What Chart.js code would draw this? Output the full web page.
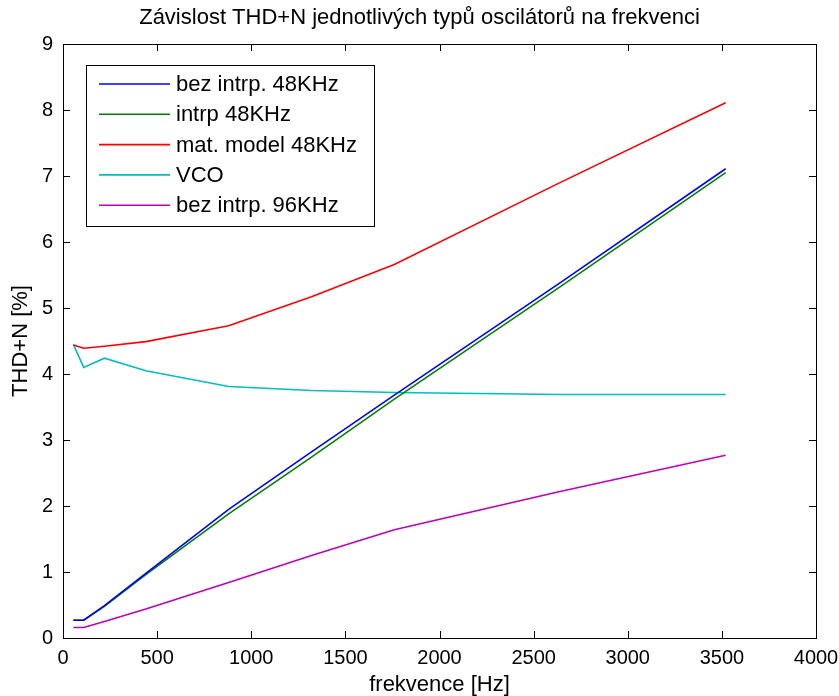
<!DOCTYPE html>
<html>
<head>
<meta charset="utf-8">
<script src="https://cdn.jsdelivr.net/npm/chart.js@4"></script>
<style>
html,body{margin:0;padding:0;background:#fff;}
#wrap{width:839px;height:696px;}
</style>
</head>
<body>
<div id="wrap"><canvas id="c" width="839" height="696"></canvas></div>
<script>
// frequencies [Hz]
const freq = [55, 110, 220, 440, 880, 1320, 1760, 2640, 3520];
// THD+N [%]
const bezIntrp48 = [0.27, 0.27, 0.49, 0.98, 1.95, 2.82, 3.68, 5.38, 7.11];
const intrp48    = [0.27, 0.27, 0.48, 0.96, 1.88, 2.74, 3.62, 5.32, 7.05];
const matModel48 = [4.44, 4.39, 4.42, 4.49, 4.73, 5.17, 5.66, 6.90, 8.11];
const vco        = [4.45, 4.10, 4.24, 4.05, 3.81, 3.75, 3.72, 3.69, 3.69];
const bezIntrp96 = [0.16, 0.16, 0.25, 0.44, 0.84, 1.25, 1.64, 2.22, 2.77];

const seriesLabels = ['bez intrp. 48KHz', 'intrp 48KHz', 'mat. model 48KHz', 'VCO', 'bez intrp. 96KHz'];
const seriesColors = ['#0000ff', '#008000', '#ff0000', '#00bfbf', '#bf00bf'];
const seriesValues = [bezIntrp48, intrp48, matModel48, vco, bezIntrp96];

const chartTitle = 'Závislost THD+N jednotlivých typů oscilátorů na frekvenci';
const xTitle = 'frekvence [Hz]';
const yTitle = 'THD+N [%]';

const FONT = "'Liberation Sans', Arial, Helvetica, sans-serif";

const datasets = seriesValues.map((vals, i) => ({
  label: seriesLabels[i],
  data: freq.map((f, j) => ({x: f, y: vals[j]})),
  borderColor: seriesColors[i],
  backgroundColor: seriesColors[i],
  borderWidth: 1.6,
  pointRadius: 0,
  tension: 0,
  fill: false
}));

const frameAndTicks = {
  id: 'frameAndTicks',
  afterDatasetsDraw(chart) {
    const {ctx, chartArea: a, scales} = chart;
    ctx.save();
    ctx.strokeStyle = '#000';
    ctx.lineWidth = 1;
    ctx.strokeRect(Math.round(a.left) + 0.5, Math.round(a.top) + 0.5, Math.round(a.right - a.left), Math.round(a.bottom - a.top));
    const L = 7;
    ctx.beginPath();
    scales.x.ticks.forEach(t => {
      const px = Math.round(scales.x.getPixelForValue(t.value)) + 0.5;
      ctx.moveTo(px, a.bottom); ctx.lineTo(px, a.bottom - L);
      ctx.moveTo(px, a.top); ctx.lineTo(px, a.top + L);
    });
    scales.y.ticks.forEach(t => {
      const py = Math.round(scales.y.getPixelForValue(t.value)) + 0.5;
      ctx.moveTo(a.left, py); ctx.lineTo(a.left + L, py);
      ctx.moveTo(a.right, py); ctx.lineTo(a.right - L, py);
    });
    ctx.stroke();

    // legend box inside plot
    const bx = 86, by = 65, bw = 288, bh = 161;
    ctx.fillStyle = '#fff';
    ctx.fillRect(bx, by, bw, bh);
    ctx.strokeRect(bx + 0.5, by + 0.5, bw, bh);
    ctx.font = '22px ' + FONT;
    ctx.textBaseline = 'middle';
    ctx.textAlign = 'left';
    chart.data.datasets.forEach((ds, i) => {
      const y = 84 + i * 30.3;
      ctx.strokeStyle = ds.borderColor;
      ctx.lineWidth = 1.6;
      ctx.beginPath();
      ctx.moveTo(99, y); ctx.lineTo(170, y);
      ctx.stroke();
      ctx.fillStyle = '#000';
      ctx.fillText(ds.label, 176, y + 1);
    });
    ctx.restore();
  }
};

new Chart(document.getElementById('c'), {
  type: 'line',
  data: {datasets},
  options: {
    responsive: false,
    animation: false,
    layout: {padding: {left: 0, right: 0, top: 0, bottom: 0}},
    plugins: {
      legend: {display: false},
      tooltip: {enabled: false},
      title: {
        display: true,
        text: chartTitle,
        color: '#000',
        font: {family: FONT, size: 22, weight: 'normal', lineHeight: 1.2},
        padding: {top: 5, bottom: 12.6}
      }
    },
    scales: {
      x: {
        type: 'linear',
        min: 0, max: 4000,
        grid: {display: false, drawTicks: false},
        border: {display: true, color: '#000'},
        ticks: {stepSize: 500, autoSkip: false, maxRotation: 0, color: '#000', padding: 8,
                font: {family: FONT, size: 20},
                callback: v => String(v)},
        title: {display: true, text: xTitle, color: '#000', padding: {top: 0, bottom: 0},
                font: {family: FONT, size: 22, lineHeight: 1}},
        afterFit(s) { s.height = 58; s.paddingRight = 23; }
      },
      y: {
        type: 'linear',
        min: 0, max: 9,
        grid: {display: false, drawTicks: false},
        border: {display: true, color: '#000'},
        ticks: {stepSize: 1, autoSkip: false, color: '#000', padding: 10,
                font: {family: FONT, size: 20}},
        title: {display: true, text: yTitle, color: '#000', padding: {top: 10, bottom: 0},
                font: {family: FONT, size: 22, lineHeight: 1}},
        afterFit(s) { s.width = 63; }
      }
    }
  },
  plugins: [frameAndTicks]
});
</script>
</body>
</html>
